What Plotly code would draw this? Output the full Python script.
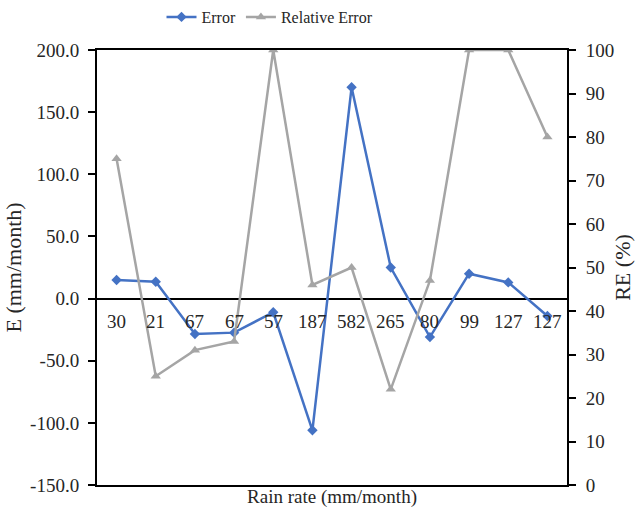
import plotly.graph_objects as go

rain_labels = ["30", "21", "67", "67", "57", "187", "582", "265", "80", "99", "127", "127"]
error_vals = [15, 13.5, -28.5, -27.4, -11, -106, 170, 25, -31, 20, 13, -14]
rel_error_vals = [75, 25, 31, 33, 100, 46, 50, 22, 47, 100, 100, 80]
e_ticks = [-150, -100, -50, 0, 50, 100, 150, 200]
e_tick_text = ["-150.0", "-100.0", "-50.0", "0.0", "50.0", "100.0", "150.0", "200.0"]
re_ticks = [0, 10, 20, 30, 40, 50, 60, 70, 80, 90, 100]

idx = list(range(len(rain_labels)))
FONT = "Liberation Serif"
BLUE = "#4472C4"
GRAY = "#A5A5A5"
TXT = "#262626"

fig = go.Figure()
fig.add_trace(go.Scatter(
    x=idx, y=error_vals, name="Error", mode="lines+markers",
    line=dict(color=BLUE, width=2.5),
    marker=dict(symbol="diamond", size=8, color=BLUE),
    xaxis="x", yaxis="y",
))
fig.add_trace(go.Scatter(
    x=idx, y=rel_error_vals, name="Relative Error", mode="lines+markers",
    line=dict(color=GRAY, width=2.5),
    marker=dict(symbol="triangle-up", size=9, color=GRAY),
    xaxis="x", yaxis="y2",
))

# category labels sitting just under the zero line
for i, lab in zip(idx, rain_labels):
    fig.add_annotation(x=i, y=0, xref="x", yref="y", text=lab, showarrow=False,
                       yanchor="top", yshift=-10, font=dict(size=19, color=TXT,
                                                             family=FONT))

fig.update_layout(
    width=635, height=512,
    margin=dict(l=97, r=68, t=50, b=27),
    paper_bgcolor="white", plot_bgcolor="white",
    font=dict(family=FONT, size=18, color=TXT),
    showlegend=True,
    legend=dict(orientation="h", x=270 / 635, xanchor="center", xref="container",
                y=1.0, yanchor="top", yref="container",
                font=dict(size=16), traceorder="normal"),
    xaxis=dict(
        range=[-0.5, len(rain_labels) - 0.5], automargin=False,
        showline=True, linecolor="black", linewidth=2, mirror=True,
        showgrid=False, zeroline=False, ticks="", showticklabels=False,
        title=dict(text="Rain rate (mm/month)", standoff=4, font=dict(size=19)),
    ),
    yaxis=dict(
        range=[e_ticks[0], e_ticks[-1]], tickmode="array", automargin=False,
        tickvals=e_ticks, ticktext=e_tick_text, tickfont=dict(size=19),
        showline=True, linecolor="black", linewidth=2, mirror=True,
        ticks="outside", ticklen=7, tickwidth=1.5, tickcolor="black",
        ticklabelstandoff=5,
        showgrid=False, zeroline=True, zerolinecolor="black", zerolinewidth=1.5,
        title=dict(text="E (mm/month)", standoff=2),
    ),
    yaxis2=dict(
        range=[re_ticks[0], re_ticks[-1]], tickmode="array", tickvals=re_ticks,
        tickfont=dict(size=19), automargin=False,
        overlaying="y", side="right", anchor="x",
        showline=True, linecolor="black", linewidth=2,
        ticks="outside", ticklen=7, tickwidth=1.5, tickcolor="black",
        ticklabelstandoff=6,
        showgrid=False, zeroline=False,
        title=dict(text="RE (%)", standoff=12),
    ),
)

fig.write_html("out.html")
